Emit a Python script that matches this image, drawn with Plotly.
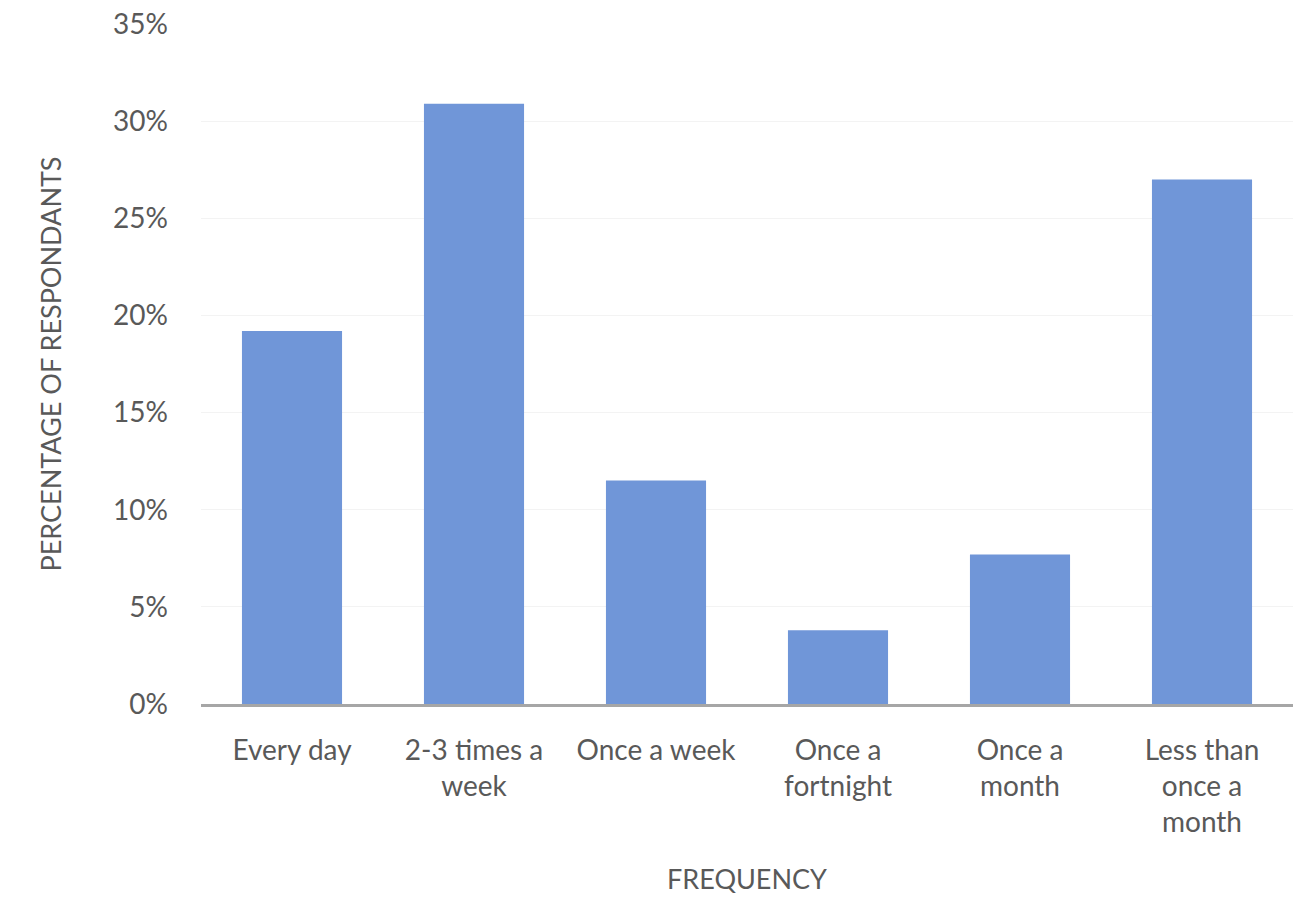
import plotly.graph_objects as go

categories = ["Every day", "2-3 times a<br>week", "Once a week", "Once a<br>fortnight",
              "Once a<br>month", "Less than<br>once a<br>month"]
values = [19.2, 30.9, 11.5, 3.8, 7.7, 27.0]
y_ticks = [0, 5, 10, 15, 20, 25, 30, 35]

fig = go.Figure(go.Bar(x=categories, y=values, marker_color="#7096d8",
                       marker_line_width=0, width=0.55))

font = dict(family="Lato, Open Sans, sans-serif", size=28, color="#595959")
fig.update_layout(
    width=1314, height=898,
    margin=dict(l=201, r=21, t=24, b=194),
    plot_bgcolor="white", paper_bgcolor="white",
    font=font, showlegend=False,
)
fig.update_xaxes(
    showline=True, linecolor="#a6a6a6", linewidth=3, automargin=False,
    ticks="", ticklabelstandoff=19, tickangle=0,
    title=dict(text="FREQUENCY", font=dict(size=27, color="#595959"), standoff=33),
)
fig.update_yaxes(
    range=[0, 35], tickvals=y_ticks, ticktext=[f"{v}%" for v in y_ticks],
    showgrid=True, gridcolor="#f3f3f3", zeroline=False, showline=False,
    ticklabelstandoff=32, ticklabeloverflow="allow", automargin=False,
    title=dict(text="PERCENTAGE OF RESPONDANTS", font=dict(size=27, color="#595959"), standoff=43),
)
fig.write_html("out.html", config={"displayModeBar": False},
               post_script="document.body.style.margin='0';")
